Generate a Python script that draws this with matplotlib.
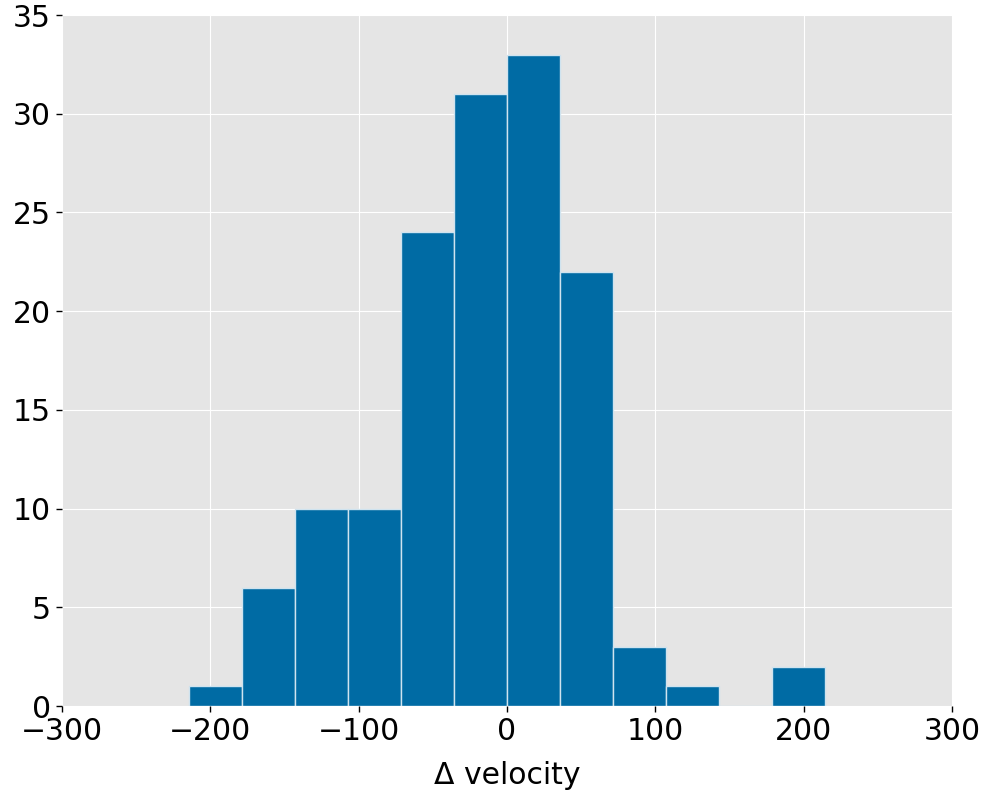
import numpy as np
import matplotlib
matplotlib.use('Agg')
import matplotlib.pyplot as plt

# histogram of velocity differences
bin_edges = [-214.3, -178.6, -142.9, -107.1, -71.4, -35.7, 0.0,
             35.7, 71.4, 107.1, 142.9, 178.6, 214.3]
counts = [1, 6, 10, 10, 24, 31, 33, 22, 3, 1, 0, 2]

xticks = [-300, -200, -100, 0, 100, 200, 300]
yticks = [0, 5, 10, 15, 20, 25, 30, 35]

plt.rcParams['font.family'] = 'DejaVu Sans'
plt.rcParams['font.size'] = 21.5

fig = plt.figure(figsize=(9.9, 7.93), dpi=100)
ax = fig.add_axes([0.0626, 0.1097, 0.899, 0.981 - 0.1097])
ax.set_facecolor('#E5E5E5')
for s in ax.spines.values():
    s.set_visible(False)

edges = np.array(bin_edges)
ax.bar(edges[:-1], counts, width=np.diff(edges), align='edge',
       color='#006BA4', edgecolor='#CFE3EF', linewidth=1, zorder=3)

ax.set_xlim(-300, 300)
ax.set_ylim(0, 35)
ax.set_xticks(xticks)
ax.set_yticks(yticks)
ax.grid(True, color='white', linewidth=0.8, zorder=0)
ax.set_axisbelow(True)
ax.tick_params(direction='out', length=4, width=1, color='black', pad=4,
               top=False, right=False)
ax.set_xlabel('Δ velocity', labelpad=11)

fig.savefig('out.png', dpi=100)
